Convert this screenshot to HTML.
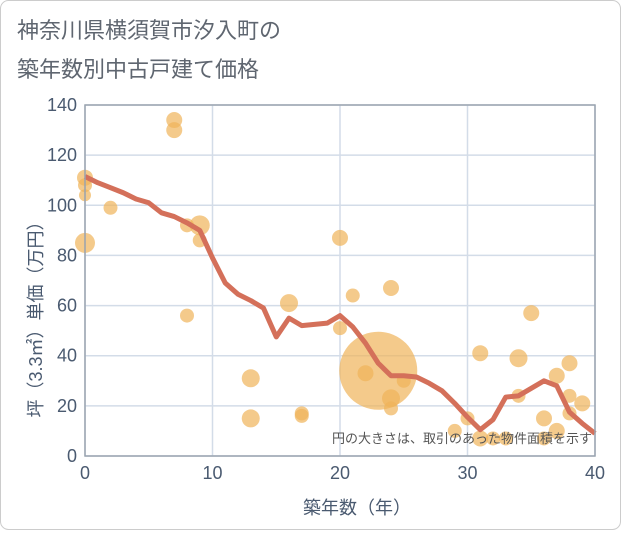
<!DOCTYPE html>
<html><head><meta charset="utf-8"><style>
body{margin:0;background:#fff;}
svg text{font-family:"Liberation Sans","Noto Sans CJK JP",sans-serif;}
</style></head><body>
<svg id="c" width="621" height="530" xmlns="http://www.w3.org/2000/svg">
<rect x="0.5" y="0.5" width="620" height="529" rx="8" fill="#fff" stroke="#ccc"/>
<text x="17" y="38" font-size="22" fill="#5f6670">神奈川県横須賀市汐入町の</text>
<text x="17" y="77" font-size="22" fill="#5f6670">築年数別中古戸建て価格</text>
<g id="grid"></g>
<g id="bubbles"></g>
<g id="line"></g>
<g id="axes"></g>
<text x="592" y="443" font-size="13" fill="#555" text-anchor="end">円の大きさは、取引のあった物件面積を示す</text>
<text x="357" y="514" font-size="18" fill="#4a5a70" text-anchor="middle">築年数（年）</text>
<text transform="translate(42,315) rotate(-90)" font-size="18" fill="#4a5a70" text-anchor="middle">坪（3.3㎡）単価（万円）</text>
</svg>
<script>
const xTicks=[0,10,20,30,40];
const yTicks=[0,20,40,60,80,100,120,140];
const lineX=[0,1,2,3,4,5,6,7,8,9,10,11,12,13,14,15,16,17,18,19,20,21,22,23,24,25,26,27,28,29,30,31,32,33,34,35,36,37,38,39,40];
const lineY=[111.5,109,107,105,102.5,101,97,95.5,93,90,79,69,64.5,62,59,47.5,55,52,52.5,53,56,51.5,45,37,32,32,31.5,29,26,21,15.5,10.5,14.5,23.5,24,27,30,28,17.5,13,9];
const bubX=[0,0,0,0,2,7,7,8,8,9,9,13,13,17,17,16,20,20,21,23,22,24,24,24,25,29,30,31,31,32,33,34,34,35,36,36,37,37,38,38,38,39];
const bubY=[111,108,104,85,99,134,130,92,56,92,86,31,15,17,16,61,87,51,64,34,33,67,23,19,30,10,15,41,7,7,7,39,24,57,15,7,32,10,37,24,17,21];
const bubR=[8,7,6,10,7,8,8,7,7,10,7,9,9,7,7,9,8,7,7,39,8,8,9,7,7,7,7,8,8,7,7,9,7,8,8,7,8,8,8,7,7,8];
const X0=85,X1=595,Y0=456,Y1=105;
const sx=v=>X0+(v-0)/40*(X1-X0);
const sy=v=>Y0-(v/140)*(Y0-Y1);
const NS="http://www.w3.org/2000/svg";
function mk(p,t,a){const e=document.createElementNS(NS,t);for(const k in a)e.setAttribute(k,a[k]);p.appendChild(e);return e;}
const g=document.getElementById('grid');
yTicks.forEach(v=>{const l=mk(g,'line',{x1:X0,x2:X1,y1:sy(v),y2:sy(v),stroke:'#d3dce8','stroke-width':1.5});

});
xTicks.forEach(v=>{const l=mk(g,'line',{x1:sx(v),x2:sx(v),y1:Y1,y2:Y0,stroke:'#d3dce8','stroke-width':1.5});

});
const b=document.getElementById('bubbles');
bubX.forEach((x,i)=>{const c=mk(b,'circle',{cx:sx(x),cy:sy(bubY[i]),r:bubR[i],fill:'#f0b45a','fill-opacity':0.7});

});
const ln=document.getElementById('line');
const p=mk(ln,'polyline',{points:lineX.map((x,i)=>sx(x)+','+sy(lineY[i])).join(' '),fill:'none',stroke:'#d4705a','stroke-width':5,'stroke-linejoin':'round'});


const a=document.getElementById('axes');
const fr=mk(a,'rect',{x:X0,y:Y1,width:X1-X0,height:Y0-Y1,fill:'none',stroke:'#9aa4b0','stroke-width':1.5});


yTicks.forEach(v=>{const t=mk(a,'text',{x:X0-8,y:sy(v)+6,'font-size':18,fill:'#4a5a70','text-anchor':'end'});t.textContent=v;

});
xTicks.forEach(v=>{const t=mk(a,'text',{x:sx(v),y:Y0+23,'font-size':18,fill:'#4a5a70','text-anchor':'middle'});t.textContent=v;

});
</script>
</body></html>
